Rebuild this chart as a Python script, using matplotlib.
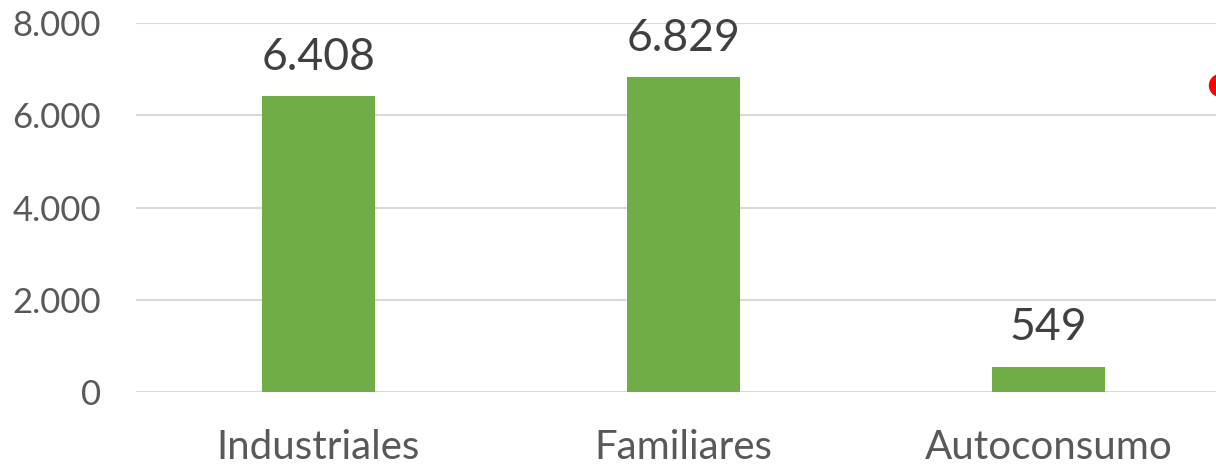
import matplotlib.pyplot as plt

categories = ['Industriales', 'Familiares', 'Autoconsumo']
values = [6408, 6829, 549]
value_labels = ['6.408', '6.829', '549']
yticks = [0, 2000, 4000, 6000, 8000]
ytick_labels = ['0', '2.000', '4.000', '6.000', '8.000']
# red marker partly visible at the right edge (series cut off in the original)
red_x = [2.47]
red_y = [6650]

plt.rcParams['font.family'] = ['Lato', 'DejaVu Sans']

fig = plt.figure(figsize=(12.16, 4.66), dpi=100)
ax = fig.add_axes([0.1118, 0.1588, 0.9005, 0.7918])

x = list(range(len(categories)))
ax.bar(x, values, width=0.31, color='#70AD47', zorder=3)
for xi, v, lab in zip(x, values, value_labels):
    ax.text(xi, v + 400, lab, ha='center', va='bottom', fontsize=32, color='#404040')

ax.scatter(red_x, red_y, s=250, color='#FF0000', zorder=4, clip_on=False)

ax.set_xlim(-0.5, 2.5)
ax.set_ylim(0, 8000)
ax.set_yticks(yticks)
ax.set_yticklabels(ytick_labels)
ax.set_xticks(x)
ax.set_xticklabels(categories)
ax.tick_params(axis='y', length=0, pad=25, labelsize=25, labelcolor='#595959')
ax.tick_params(axis='x', length=0, pad=27, labelsize=29, labelcolor='#595959')
ax.grid(axis='y', color='#D9D9D9', linewidth=1.5, zorder=0)
for s in ax.spines.values():
    s.set_visible(False)

fig.savefig('out.png', dpi=100)
